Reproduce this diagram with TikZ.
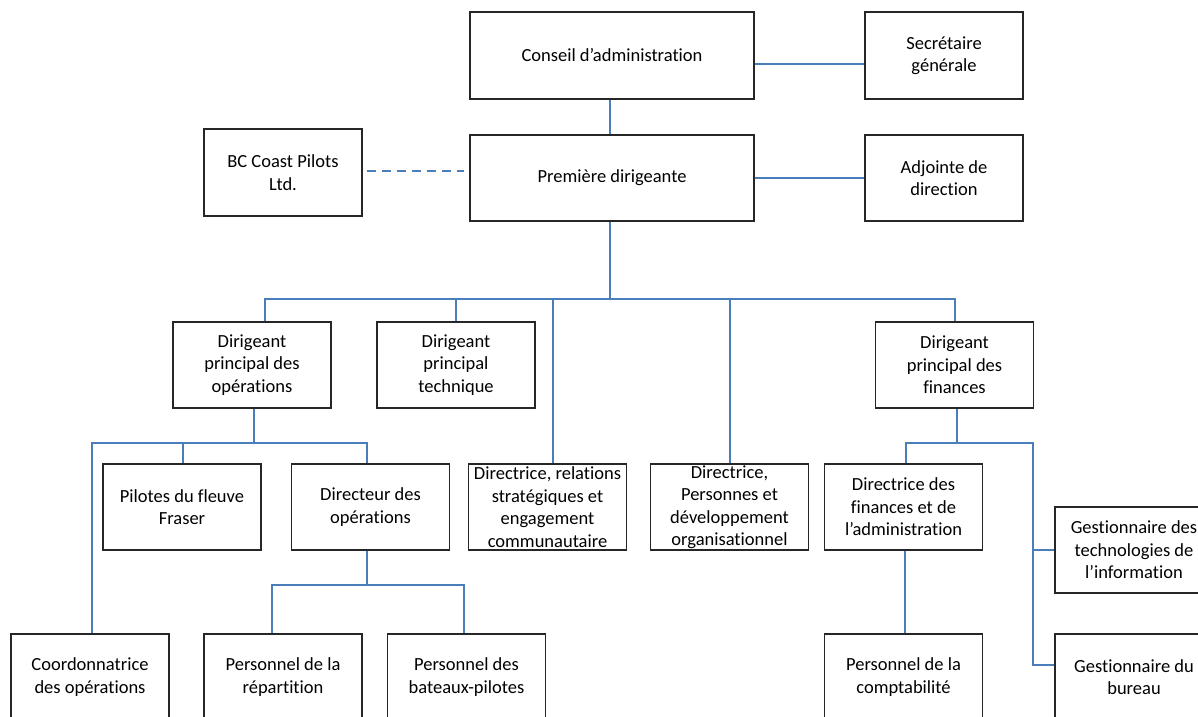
\documentclass[tikz,border=0pt]{standalone}
\usepackage{fontspec}
\setmainfont{Carlito}[Ligatures={NoCommon,NoContextual}]
\definecolor{connblue}{HTML}{4A7EBB}
\begin{document}
\begin{tikzpicture}[x=1pt,y=-1pt,
  box/.style={draw=black!85, line width=1.1pt, minimum width=158pt, minimum height=86pt,
    inner sep=0pt, align=center, font=\fontsize{18.5}{22.5}\selectfont},
  link/.style={draw=connblue, line width=2pt},
  dashlink/.style={draw=connblue, line width=1.6pt, dash pattern=on 9pt off 6pt}]
\useasboundingbox (0,0) rectangle (1198,716);
% nodes
\node[box, minimum width=284pt, minimum height=87pt] (ca) at (612,55.5) {Conseil d’administration};
\node[box, minimum height=87pt] (sg) at (944,55.5) {Secrétaire\\générale};
\node[box, minimum width=284pt] (pd) at (612,178) {Première dirigeante};
\node[box, minimum height=87pt] (bc) at (283,172.5) {BC Coast Pilots\\Ltd.};
\node[box] (ad) at (944,178) {Adjointe de\\direction};
\node[box] (dpo) at (252,365) {Dirigeant\\principal des\\opérations};
\node[box] (dpt) at (456,365) {Dirigeant\\principal\\technique};
\node[box] (dpf) at (954.5,365) {Dirigeant\\principal des\\finances};
\node[box] (pil) at (182,507) {Pilotes du fleuve\\Fraser};
\node[box] (dop) at (370.5,507) {Directeur des\\opérations};
\node[box] (drs) at (547.5,507) {Directrice, relations\\stratégiques et\\engagement\\communautaire};
\node[box] (dpe) at (729.5,507) {Directrice,\\Personnes et\\développement\\organisationnel};
\node[box] (dfa) at (903.5,507) {Directrice des\\finances et de\\l’administration};
\node[box] (ti) at (1134,550) {Gestionnaire des\\technologies de\\l’information};
\node[box] (coo) at (90,677) {Coordonnatrice\\des opérations};
\node[box] (rep) at (283,677) {Personnel de la\\répartition};
\node[box] (bat) at (466.5,677) {Personnel des\\bateaux-pilotes};
\node[box] (cpt) at (903.5,677) {Personnel de la\\comptabilité};
\node[box] (bur) at (1134,677) {Gestionnaire du\\bureau};
% connectors
\draw[link] ([yshift=-8pt]ca.east) -- ([yshift=-8pt]sg.west);
\draw[link] ([xshift=-2pt]ca.south) -- ([xshift=-2pt]pd.north);
\draw[link] (pd.east) -- (ad.west);
\draw[dashlink] ([xshift=4pt,yshift=1.5pt]bc.east) -- ([xshift=-5pt,yshift=1.5pt]bc.east -| pd.west);
\draw[link] ([xshift=-2pt]pd.south) -- ++(0,77) coordinate (bus);
\draw[link] ([xshift=13pt]dpo.north) |- (dpf.north |- bus) -- (dpf.north);
\draw[link] (dpt.north) -- (dpt.north |- bus);
\draw[link] ([xshift=5pt]drs.north) -- ([xshift=5pt]drs.north |- bus);
\draw[link] (dpe.north) -- (dpe.north |- bus);
% operations
\draw[link] ([xshift=2pt]dpo.south) -- ++(0,34) coordinate (b2);
\draw[link] ([xshift=2pt]coo.north) |- ([xshift=-4pt]dop.north |- b2) -- ([xshift=-4pt]dop.north);
\draw[link] ([xshift=1pt]pil.north) -- ([xshift=1pt]pil.north |- b2);
\draw[link] ([xshift=-4pt]dop.south) -- ++(0,34) coordinate (b3);
\draw[link] ([xshift=-11pt]rep.north) |- ([xshift=-3pt]bat.north |- b3) -- ([xshift=-3pt]bat.north);
% finances
\draw[link] ([xshift=2pt]dpf.south) -- ++(0,34) coordinate (b4);
\draw[link] ([xshift=2pt]dfa.north) |- ([xshift=-21pt]ti.west |- b4) |- ([yshift=12pt]bur.west);
\draw[link] ([xshift=-21pt]ti.west) -- (ti.west);
\draw[link] ([xshift=1.5pt]dfa.south) -- ([xshift=1.5pt]cpt.north);
\end{tikzpicture}
\end{document}
